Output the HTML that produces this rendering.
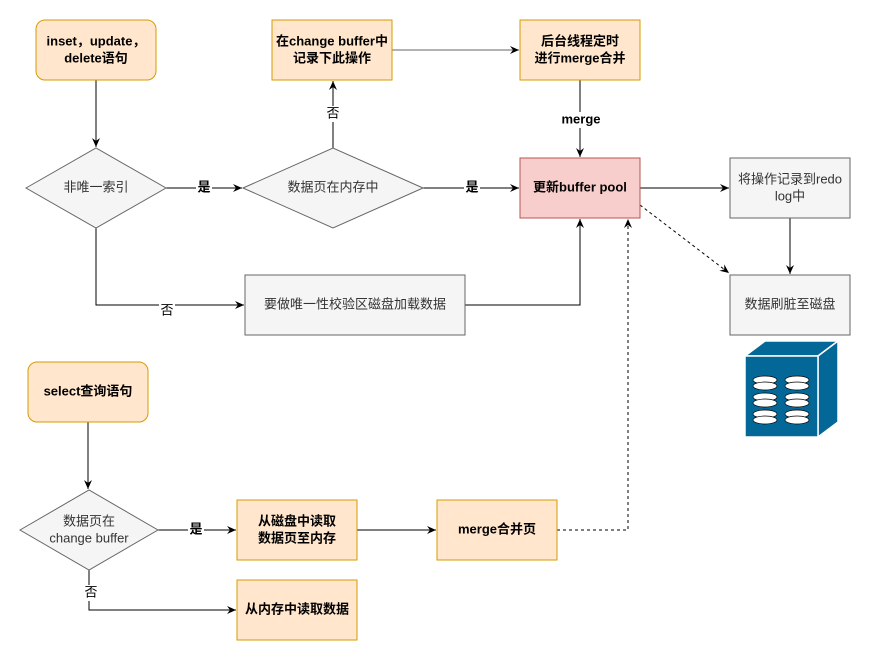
<!DOCTYPE html>
<html><head><meta charset="utf-8"><style>
body{margin:0;background:#fff}
svg text{font-family:"Liberation Sans","Noto Sans CJK SC",sans-serif;font-size:13px;text-anchor:middle;dominant-baseline:middle}
</style></head><body>
<svg width="872" height="660" viewBox="0 0 872 660" xmlns="http://www.w3.org/2000/svg">
<defs>
<marker id="a" markerWidth="10" markerHeight="10" refX="9" refY="5" orient="auto" markerUnits="userSpaceOnUse"><path d="M0,1 L9,5 L0,9 L3,5Z" fill="#000"/></marker>
</defs>
<g fill="none" stroke="#000" stroke-width="1">
<path d="M96,80V147" marker-end="url(#a)"/>
<path d="M166,188H242" marker-end="url(#a)"/>
<path d="M333,148V81" marker-end="url(#a)"/>
<path d="M392,50H519" stroke="#666" marker-end="url(#a)"/>
<path d="M580,80V157" marker-end="url(#a)"/>
<path d="M423,188H519" marker-end="url(#a)"/>
<path d="M640,188H729" marker-end="url(#a)"/>
<path d="M790,218V274" marker-end="url(#a)"/>
<path d="M640,205L729,273" stroke-dasharray="3,3" marker-end="url(#a)"/>
<path d="M96,228V305H244" marker-end="url(#a)"/>
<path d="M465,305H580V219" marker-end="url(#a)"/>
<path d="M88,422V489" marker-end="url(#a)"/>
<path d="M158,530H236" marker-end="url(#a)"/>
<path d="M357,530H436" marker-end="url(#a)"/>
<path d="M557,530H628V219" stroke-dasharray="3,3" marker-end="url(#a)"/>
<path d="M89,570V610H236" marker-end="url(#a)"/>
</g>
<g stroke-width="1">
<rect x="36" y="20" width="120" height="60" rx="9" fill="#ffe6cc" stroke="#d79b00"/>
<rect x="272" y="20" width="120" height="60" fill="#ffe6cc" stroke="#d79b00"/>
<rect x="520" y="20" width="120" height="60" fill="#ffe6cc" stroke="#d79b00"/>
<path d="M26,188L96,148L166,188L96,228Z" fill="#f5f5f5" stroke="#666"/>
<path d="M243,188L333,148L423,188L333,228Z" fill="#f5f5f5" stroke="#666"/>
<rect x="520" y="158" width="120" height="60" fill="#f8cecc" stroke="#b85450"/>
<rect x="730" y="158" width="120" height="60" fill="#f5f5f5" stroke="#666"/>
<rect x="730" y="275" width="120" height="60" fill="#f5f5f5" stroke="#666"/>
<rect x="245" y="275" width="220" height="60" fill="#f5f5f5" stroke="#666"/>
<rect x="28" y="362" width="120" height="60" rx="9" fill="#ffe6cc" stroke="#d79b00"/>
<path d="M20,530L89,490L158,530L89,570Z" fill="#f5f5f5" stroke="#666"/>
<rect x="237" y="500" width="120" height="60" fill="#ffe6cc" stroke="#d79b00"/>
<rect x="437" y="500" width="120" height="60" fill="#ffe6cc" stroke="#d79b00"/>
<rect x="237" y="580" width="120" height="60" fill="#ffe6cc" stroke="#d79b00"/>
</g>
<g stroke="#fff" stroke-width="1.5" fill="#036897">
<path d="M745,356L765,341H838L818,356Z"/>
<path d="M818,356L838,341V422L818,437Z"/>
<rect x="745" y="356" width="73" height="81"/>
</g>
<g fill="#fff" stroke="#000" stroke-width="0.7">
<ellipse cx="765" cy="380" rx="12" ry="4"/><ellipse cx="765" cy="386" rx="12" ry="4"/>
<ellipse cx="797" cy="380" rx="12" ry="4"/><ellipse cx="797" cy="386" rx="12" ry="4"/>
<ellipse cx="765" cy="397" rx="12" ry="4"/><ellipse cx="765" cy="403" rx="12" ry="4"/>
<ellipse cx="797" cy="397" rx="12" ry="4"/><ellipse cx="797" cy="403" rx="12" ry="4"/>
<ellipse cx="765" cy="414" rx="12" ry="4"/><ellipse cx="765" cy="420" rx="12" ry="4"/>
<ellipse cx="797" cy="414" rx="12" ry="4"/><ellipse cx="797" cy="420" rx="12" ry="4"/>
</g>
<g font-weight="bold">
<text x="96" y="42">inset，update，</text><text x="96" y="59">delete语句</text>
<text x="332" y="42">在change buffer中</text><text x="332" y="59">记录下此操作</text>
<text x="580" y="42">后台线程定时</text><text x="580" y="59">进行merge合并</text>
<text x="580" y="188">更新buffer pool</text>
<text x="88" y="392">select查询语句</text>
<text x="297" y="522">从磁盘中读取</text><text x="297" y="539">数据页至内存</text>
<text x="497" y="530">merge合并页</text>
<text x="297" y="610">从内存中读取数据</text>
</g>
<g fill="#333">
<text x="96" y="188">非唯一索引</text>
<text x="333" y="188">数据页在内存中</text>
<text x="790" y="180">将操作记录到redo</text><text x="790" y="197">log中</text>
<text x="790" y="305">数据刷脏至磁盘</text>
<text x="355" y="305">要做唯一性校验区磁盘加载数据</text>
<text x="89" y="522">数据页在</text><text x="89" y="539">change buffer</text>
</g>
<g>
<rect x="196" y="180" width="16" height="16" fill="#fff"/><text x="204" y="188" font-weight="bold">是</text>
<rect x="325" y="106" width="16" height="16" fill="#fff"/><text x="333" y="114">否</text>
<rect x="558" y="112" width="46" height="16" fill="#fff"/><text x="581" y="120" font-weight="bold">merge</text>
<rect x="464" y="180" width="16" height="16" fill="#fff"/><text x="472" y="188" font-weight="bold">是</text>
<rect x="159" y="303" width="16" height="16" fill="#fff"/><text x="167" y="311">否</text>
<rect x="188" y="522" width="16" height="16" fill="#fff"/><text x="196" y="530" font-weight="bold">是</text>
<rect x="83" y="585" width="16" height="16" fill="#fff"/><text x="91" y="593">否</text>
</g>
</svg>
</body></html>
